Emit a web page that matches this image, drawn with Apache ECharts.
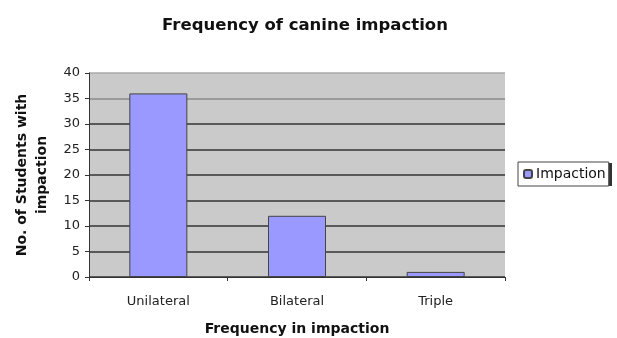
<!DOCTYPE html>
<html lang="en">
<head>
    <meta charset="UTF-8">
    <title>Frequency of canine impaction</title>
    <script src="https://cdn.jsdelivr.net/npm/echarts@6/dist/echarts.min.js"></script>
</head>
<body style="margin:0">
<div id="chart" style="width:617px; height:338px"></div>
<script type="text/javascript">
    // data
    var categories = ['Unilateral', 'Bilateral', 'Triple'];
    var impaction = [36, 12, 1];
    var yTicks = [0, 40, 5];   // min, max, step

    var myChart = echarts.init(document.getElementById('chart'));
    var font = 'DejaVu Sans, sans-serif';

    myChart.setOption({
        backgroundColor: '#fff',
        animation: false,
        title: {
            text: 'Frequency of canine impaction',
            left: 300, top: 12, textAlign: 'center',
            textStyle: { fontFamily: font, fontSize: 16.5, fontWeight: 'bold', color: '#111' }
        },
        // legend shadow
        graphic: [{
            type: 'rect', left: 521, top: 163, z: 0,
            shape: { width: 91, height: 23 },
            style: { fill: '#333' }
        }],
        legend: {
            data: ['Impaction'],
            left: 518, top: 162, z: 5,
            orient: 'vertical',
            backgroundColor: '#fff',
            borderColor: '#444', borderWidth: 1,
            padding: [5, 3, 5, 5],
            itemWidth: 8, itemHeight: 8, itemGap: 4,
            textStyle: { fontFamily: font, fontSize: 14, color: '#111', padding: [0, 0, 0, -1] }
        },
        grid: { left: 89, right: 112, top: 73, bottom: 61, outerBoundsMode: 'none', show: true, backgroundColor: '#cacaca', borderWidth: 0 },
        xAxis: {
            type: 'category',
            data: categories,
            name: 'Frequency in impaction',
            nameLocation: 'middle', nameGap: 45, nameMoveOverlap: false,
            nameTextStyle: { fontFamily: font, fontSize: 14, fontWeight: 'bold', color: '#111' },
            axisLine: { lineStyle: { color: '#333', width: 1 } },
            axisTick: { show: true, length: 4, lineStyle: { color: '#333' } },
            axisLabel: { fontFamily: font, fontSize: 13, color: '#222', margin: 18 }
        },
        yAxis: {
            type: 'value',
            min: yTicks[0], max: yTicks[1], interval: yTicks[2],
            name: 'No. of Students with\nimpaction',
            nameLocation: 'middle', nameGap: 37, nameMoveOverlap: false,
            nameTextStyle: { fontFamily: font, fontSize: 14, fontWeight: 'bold', color: '#111', lineHeight: 20 },
            axisLine: { show: true, lineStyle: { color: '#333', width: 1 } },
            axisTick: { show: true, length: 4, lineStyle: { color: '#333' } },
            axisLabel: { fontFamily: font, fontSize: 13, color: '#222', margin: 9 },
            splitLine: { lineStyle: { color: ['#333', '#333', '#333', '#333', '#333', '#333', '#333', '#8a8a8a', '#aaa'], width: 1.5 } }
        },
        series: [{
            name: 'Impaction',
            type: 'bar',
            data: impaction,
            barWidth: 58,
            itemStyle: { color: '#9999ff', borderColor: '#444', borderWidth: 1 }
        }]
    });
</script>
</body>
</html>
